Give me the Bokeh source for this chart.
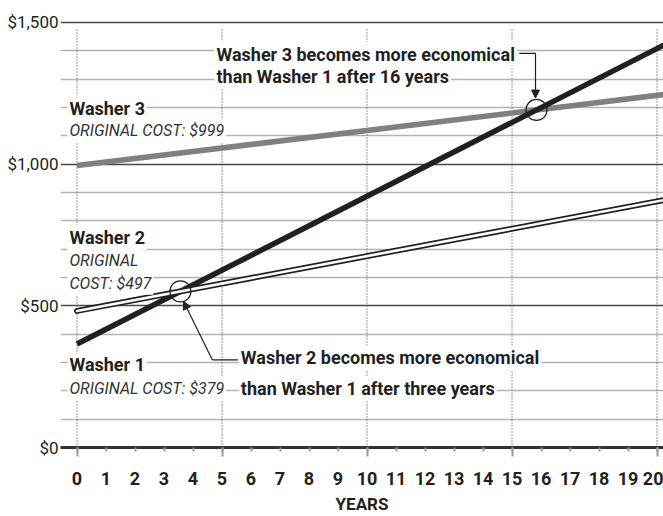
import numpy as np
from bokeh.plotting import figure
from bokeh.models import Range1d, FixedTicker, Label, Arrow, NormalHead
from bokeh.embed import file_html
from bokeh.resources import INLINE

# ---- data ----
years = [0, 21]
washer1 = [365, 1460]
washer2 = [482, 888]
washer3 = [995, 1255]
year_ticks = list(range(0, 21))
major_years = [0, 5, 10, 15, 20]
cost_ticks = [0, 500, 1000, 1500]
cost_minor = [100, 200, 300, 400, 600, 700, 800, 900, 1100, 1200, 1300, 1400]
cost_labels = {0: "$0", 500: "$500", 1000: "$1,000", 1500: "$1,500"}

FONT = "Roboto"
INK = "#231f20"


def crossing(xs, a, b):
    sa = (a[1] - a[0]) / (xs[1] - xs[0])
    sb = (b[1] - b[0]) / (xs[1] - xs[0])
    t = (b[0] - a[0]) / (sa - sb)
    return xs[0] + t, a[0] + sa * t

c12 = crossing(years, washer1, washer2)
c13 = crossing(years, washer1, washer3)

p = figure(width=663, height=516, output_backend="svg", toolbar_location=None,
           x_range=Range1d(-0.569, 20.224), y_range=Range1d(0, 1528),
           min_border_left=60, min_border_right=0, min_border_top=14,
           min_border_bottom=67)
p.outline_line_color = None
p.background_fill_color = "white"

# y grid
p.ygrid.ticker = FixedTicker(ticks=cost_ticks, minor_ticks=cost_minor)
p.ygrid.grid_line_color = "#4a4a4a"
p.ygrid.grid_line_width = 1.6
p.ygrid.minor_grid_line_color = "#b3b3b3"
p.ygrid.minor_grid_line_width = 1.6
p.xgrid.grid_line_color = None

# y axis
p.yaxis.ticker = FixedTicker(ticks=cost_ticks, minor_ticks=[])
p.yaxis.major_label_overrides = cost_labels
p.yaxis.axis_line_color = None
p.yaxis.major_tick_line_color = None
p.yaxis.minor_tick_line_color = None
p.yaxis.major_tick_out = 0
p.yaxis.major_tick_in = 0
p.yaxis.major_label_standoff = 2
p.yaxis.major_label_text_font = FONT
p.yaxis.major_label_text_font_size = "17px"
p.yaxis.major_label_text_color = INK

# x axis
p.xaxis.ticker = FixedTicker(ticks=year_ticks, minor_ticks=major_years)
p.xaxis.axis_line_color = "#333333"
p.xaxis.axis_line_width = 3
p.xaxis.major_tick_line_color = "#999999"
p.xaxis.major_tick_line_width = 2
p.xaxis.major_tick_in = 0
p.xaxis.major_tick_out = 4
p.xaxis.minor_tick_line_color = "#999999"
p.xaxis.minor_tick_line_width = 2
p.xaxis.minor_tick_in = 0
p.xaxis.minor_tick_out = 9
p.xaxis.major_label_standoff = 15
p.xaxis.major_label_text_font = FONT
p.xaxis.major_label_text_font_style = "bold"
p.xaxis.major_label_text_font_size = "18px"
p.xaxis.major_label_text_color = INK
p.xaxis.axis_label = "YEARS"
p.xaxis.axis_label_standoff = 6
p.xaxis.axis_label_text_font = FONT
p.xaxis.axis_label_text_font_style = "bold"
p.xaxis.axis_label_text_font_size = "17px"
p.xaxis.axis_label_text_color = INK

# dotted vertical guides
p.segment(x0=major_years, y0=[0] * len(major_years), x1=major_years,
          y1=[1480] * len(major_years), line_color="#333333", line_width=1,
          line_dash="1 2")

# data lines
p.line(years, washer3, line_color="#808080", line_width=5.5)
p.line(years, washer1, line_color=INK, line_width=5.5)
p.line(years, washer2, line_color=INK, line_width=6, line_cap="round")
p.line(years, washer2, line_color="white", line_width=2.6, line_cap="round")

# crossing circles
p.scatter(x=[c12[0], c13[0]], y=[c12[1], c13[1]], size=21, fill_color=None,
          line_color=INK, line_width=1.2)


def lab(x, y, text, style="bold", size="18px", color=INK):
    p.add_layout(Label(x=x, y=y, text=text, text_font=FONT, text_font_style=style,
                       text_font_size=size, text_color=color, text_baseline="middle",
                       text_align="left", background_fill_color="white",
                       padding=2))

lab(-0.33, 1198, "Washer 3")
lab(-0.33, 1117, "ORIGINAL COST: $999", style="italic", size="16px", color="#333333")
lab(-0.33, 741, "Washer 2")
lab(-0.33, 660, "ORIGINAL", style="italic", size="16px", color="#333333")
lab(-0.33, 580, "COST: $497", style="italic", size="16px", color="#333333")
lab(-0.33, 292, "Washer 1")
lab(-0.33, 207, "ORIGINAL COST: $379", style="italic", size="16px", color="#333333")

lab(4.74, 1388, "Washer 3 becomes more economical")
lab(4.74, 1310, "than Washer 1 after 16 years")
lab(5.58, 316, "Washer 2 becomes more economical")
lab(5.58, 207, "than Washer 1 after three years")

# leaders
p.line([15.25, 15.81], [1391, 1391], line_color=INK, line_width=1.2)
p.add_layout(Arrow(end=NormalHead(size=8, fill_color=INK, line_color=INK),
                   x_start=15.81, y_start=1391, x_end=15.81, y_end=1233,
                   line_color=INK, line_width=1.2))
p.line([5.55, 4.67], [309, 309], line_color=INK, line_width=1.2)
p.add_layout(Arrow(end=NormalHead(size=8, fill_color=INK, line_color=INK),
                   x_start=4.67, y_start=309, x_end=3.67, y_end=516,
                   line_color=INK, line_width=1.2))

open("out.html", "w").write(file_html(p, INLINE))
